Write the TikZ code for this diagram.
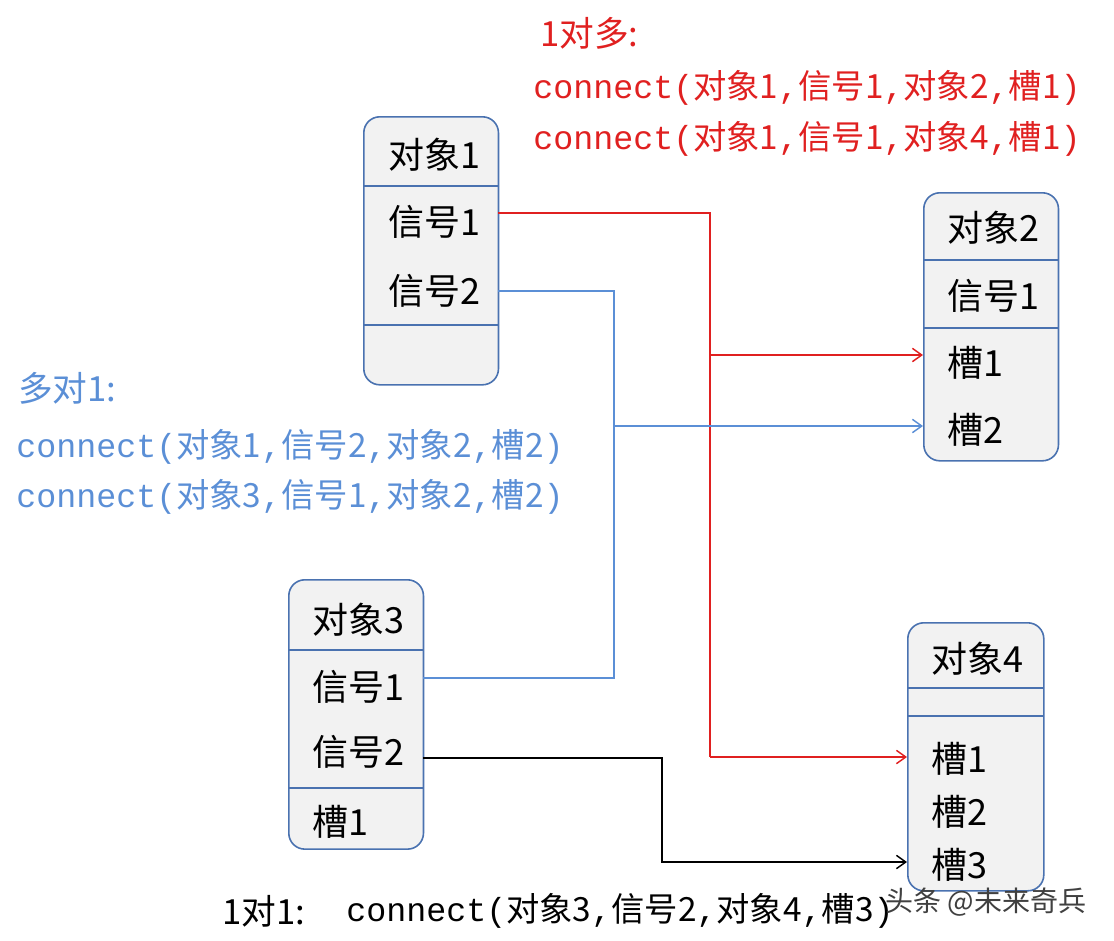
\documentclass[tikz,border=0pt]{standalone}
\usepackage{fontspec}
\newfontfamily\cjkf{Noto Sans CJK SC}
\newfontfamily\monof{Liberation Mono}
\newcommand\M[1]{{\monof #1}}
\newcommand\Z[1]{{\cjkf #1}}
\definecolor{bx}{HTML}{4A72B0}
\definecolor{bf}{HTML}{F2F2F2}
\definecolor{rd}{HTML}{E02020}
\definecolor{bl}{HTML}{5B8FD6}
\usetikzlibrary{arrows.meta}
\tikzset{
 obj/.style={draw=bx,line width=1.2pt,fill=bf,rounded corners=12pt,inner sep=0pt},
 lab/.style={anchor=west,inner sep=0pt,font=\cjkf\fontsize{27}{30}\selectfont},
 dv/.style={draw=bx,line width=1pt},
 ln/.style={line width=1.1pt},
 arr/.style={ln,-{Straight Barb[length=7pt,width=10pt]}},
 ct/.style={anchor=west,inner sep=0pt,font=\fontsize{25}{28}\selectfont},
 ttl/.style={anchor=west,inner sep=0pt,font=\cjkf\fontsize{26}{28}\selectfont},
}
\newcommand\ctx[4]{\M{connect(}\Z{#1}\M{,}\Z{#2}\M{,}\Z{#3}\M{,}\Z{#4}\M{)}}
\begin{document}
\begin{tikzpicture}[x=0.75pt,y=-0.75pt]
\useasboundingbox (0,0) rectangle (1114,940);
% boxes
\node[obj,minimum width=101pt,minimum height=201pt,anchor=north west] (o1) at (363,116) {};
\node[obj,minimum width=101pt,minimum height=201pt,anchor=north west] (o2) at (923,192) {};
\node[obj,minimum width=101pt,minimum height=202pt,anchor=north west] (o3) at (288,579) {};
\node[obj,minimum width=102pt,minimum height=201pt,anchor=north west] (o4) at (907,622) {};
\draw[dv] (363,186)--(498,186) (363,325)--(498,325);
\draw[dv] (923,260)--(1058,260) (923,328)--(1058,328);
\draw[dv] (288,650)--(423,650) (288,788)--(423,788);
\draw[dv] (907,688)--(1043,688) (907,716)--(1043,716);
% labels
\node[lab] (a1) at (388,155) {对象1};
\node[lab] (a2) at (388,222) {信号1};
\node[lab] (a3) at (388,291) {信号2};
\node[lab] (b1) at (947,228) {对象2};
\node[lab] (b2) at (947,296) {信号1};
\node[lab] (b3) at (947,363) {槽1};
\node[lab] (b4) at (947,430) {槽2};
\node[lab] (c1) at (312,620) {对象3};
\node[lab] (c2) at (312,687) {信号1};
\node[lab] (c3) at (312,752) {信号2};
\node[lab] (c4) at (312,822) {槽1};
\node[lab] (d1) at (931,659) {对象4};
\node[lab] (d2) at (931,759) {槽1};
\node[lab] (d3) at (931,812) {槽2};
\node[lab] (d4) at (931,865) {槽3};
% port coordinates
\coordinate (p1) at (498,213);
\coordinate (p2) at (498,291);
\coordinate (q1) at (923,355);
\coordinate (q2) at (923,426);
\coordinate (p3) at (423,678);
\coordinate (p4) at (423,758);
\coordinate (q3) at (907,757);
\coordinate (q4) at (907,862);
\coordinate (rj) at (710,355);
\coordinate (bj) at (614,426);
% red
\draw[ln,rd] (p1) -- (710,213) -- (710,757);
\draw[arr,rd] (710,757) -- (q3);
\draw[arr,rd] (rj) -- (q1);
% blue
\draw[ln,bl] (p2) -- (614,291) -- (614,678) -- (p3);
\draw[arr,bl] (bj) -- (q2);
% black
\draw[arr,black] (p4) -- (662,758) -- (662,862) -- (q4);
% texts
\node[ttl,text=rd] (t1) at (540,33) {1对多:};
\node[ct,text=rd] (t2) at (533,88) {\ctx{对象1}{信号1}{对象2}{槽1}};
\node[ct,text=rd] (t3) at (533,139) {\ctx{对象1}{信号1}{对象4}{槽1}};
\node[ttl,text=bl] (u1) at (18,388) {多对1:};
\node[ct,text=bl] (u2) at (16,447) {\ctx{对象1}{信号2}{对象2}{槽2}};
\node[ct,text=bl] (u3) at (16,497) {\ctx{对象3}{信号1}{对象2}{槽2}};
\node[ttl] (v1) at (222,911) {1对1:};
\node[ct] (v2) at (346,911) {\ctx{对象3}{信号2}{对象4}{槽3}};
\node[anchor=west,inner sep=0pt,text=black!75,font=\cjkf\fontsize{21}{24}\selectfont] (w) at (885,902) {头条 @未来奇兵};
\end{tikzpicture}
\end{document}
